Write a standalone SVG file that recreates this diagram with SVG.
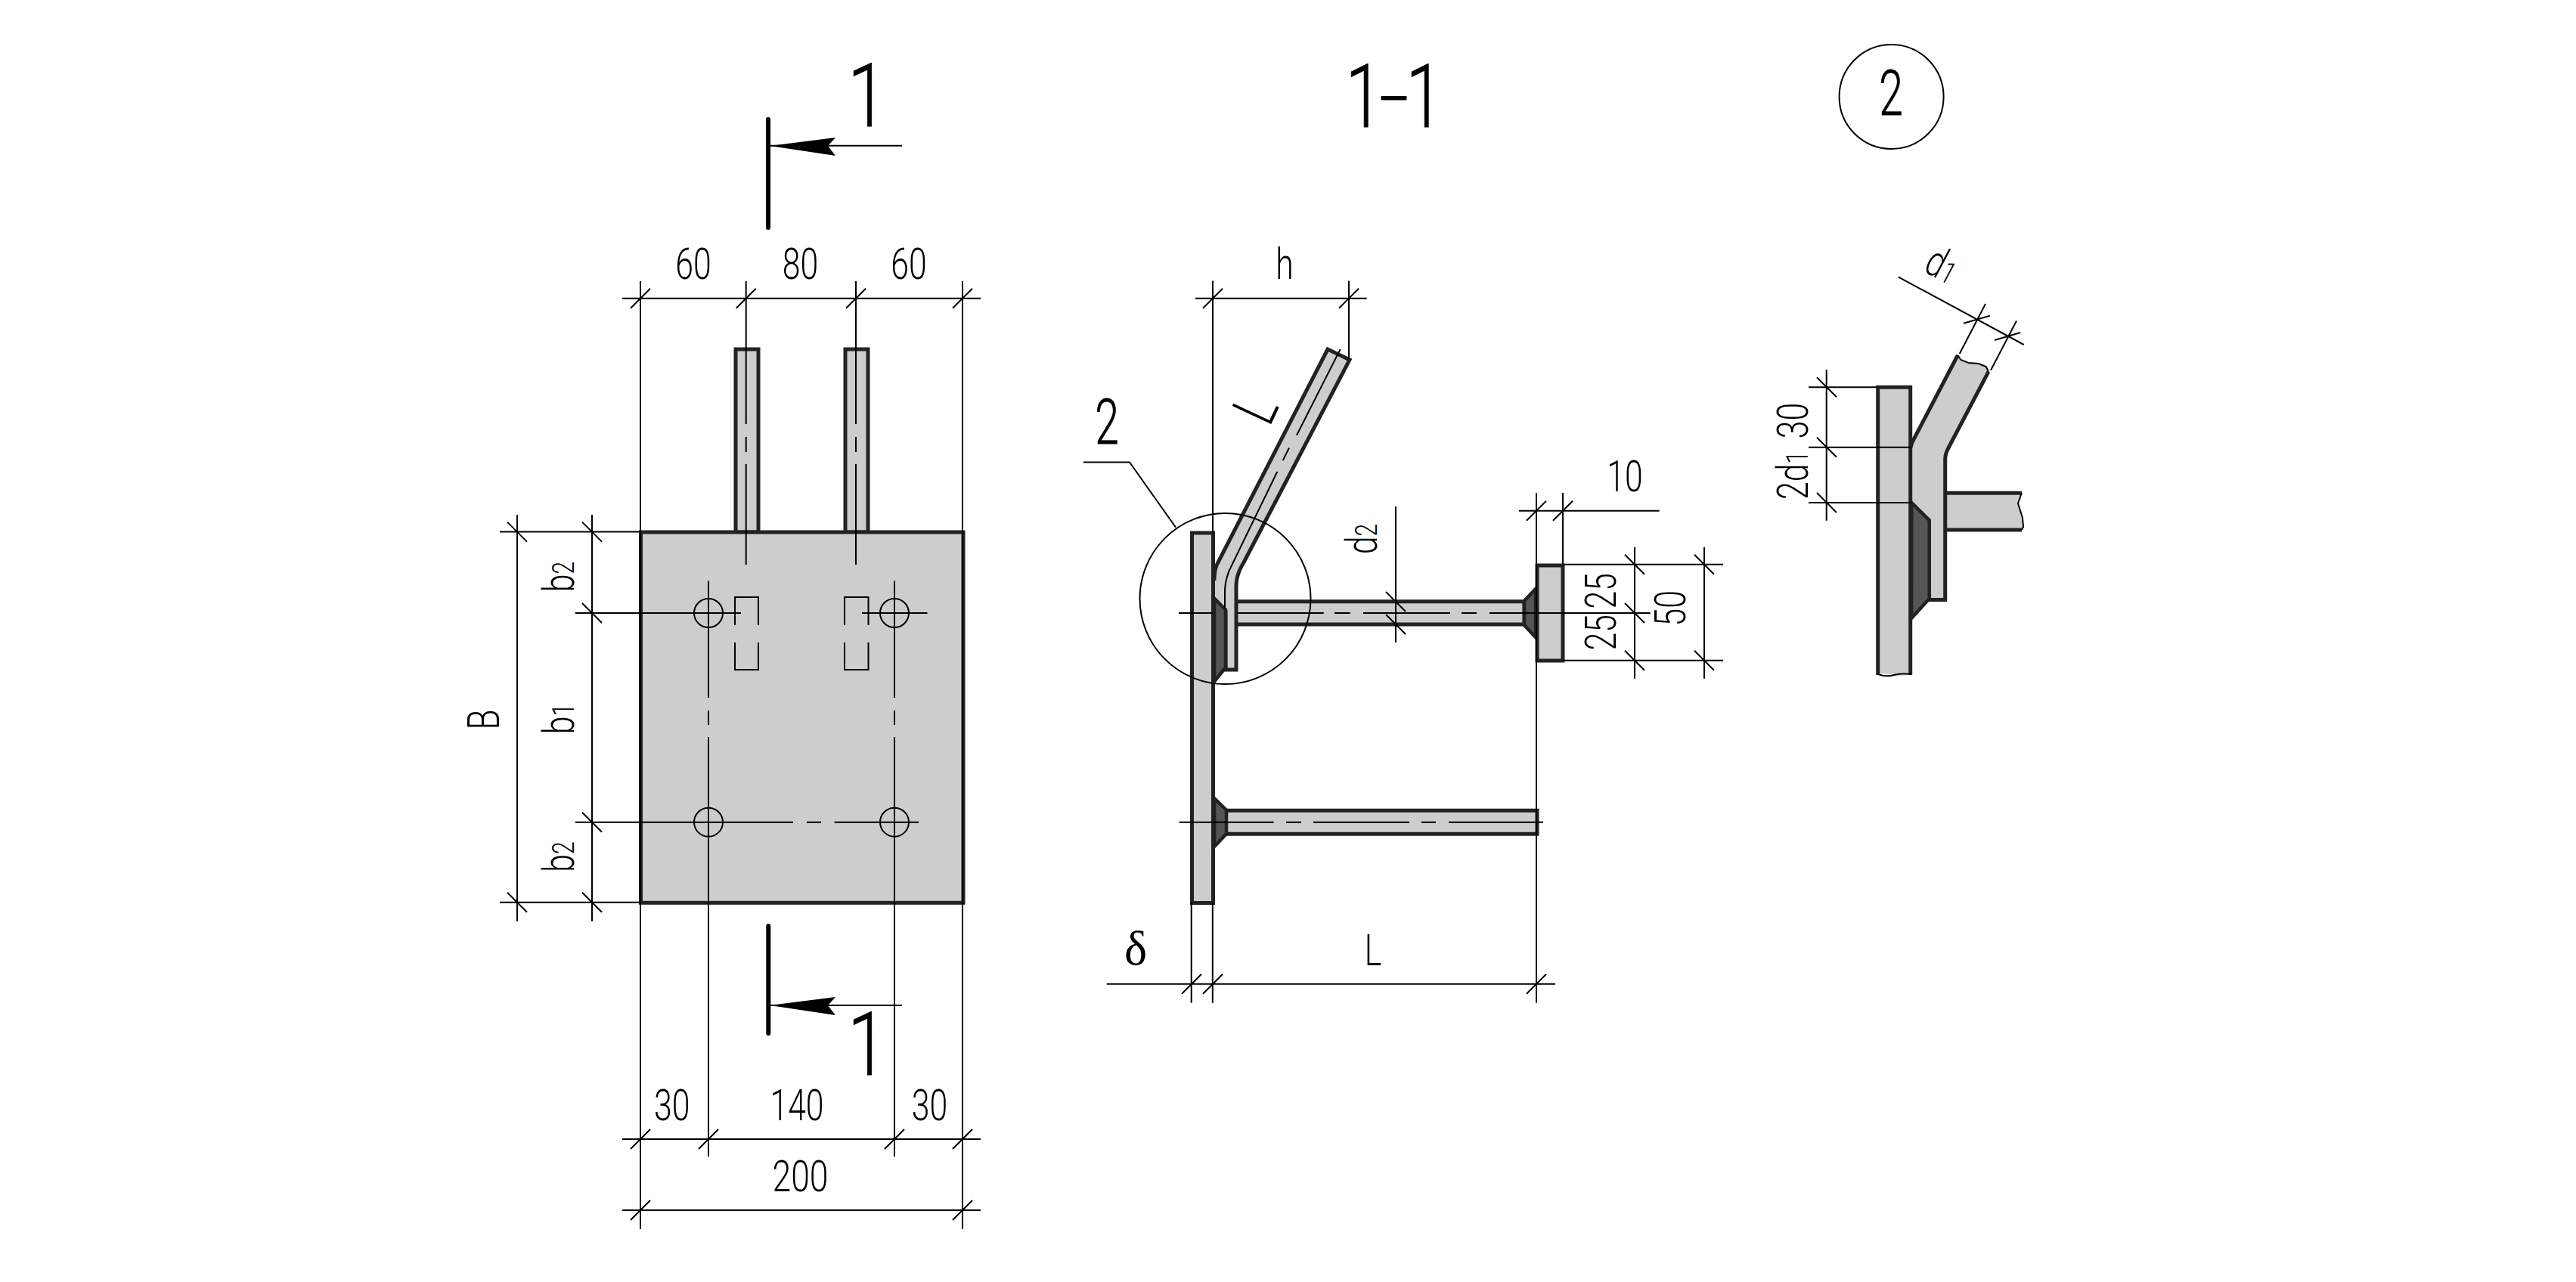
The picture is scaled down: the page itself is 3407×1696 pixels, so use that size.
<svg xmlns="http://www.w3.org/2000/svg" width="3407" height="1696" viewBox="0 0 3407 1696">
<style>
text{font-family:Roboto,"Liberation Sans",sans-serif;font-weight:300;font-size:57px;fill:#000;text-anchor:middle}
.big{font-size:117px;stroke:#000;stroke-width:1}
.mid{font-size:84px;stroke:#000;stroke-width:.8}
.sub{font-size:40px}
.dash{font-size:90px}
.del{font-family:"Liberation Serif",serif;font-weight:400;font-size:64px}
.th{fill:none;stroke:#000;stroke-width:2}
.cs{fill:none;stroke:#000;stroke-width:6;stroke-linecap:round}
.st{fill:#cdcdcd;stroke:#222;stroke-width:5}
.fl{fill:#cdcdcd;stroke:none}
.ed{fill:none;stroke:#222;stroke-width:5}
.wd{fill:#555;stroke:#222;stroke-width:4.5}
</style>
<rect width="3407" height="1696" fill="#fff"/>
<defs>
<path id="ah" d="M0 0L87-11L77 0L87 13Z" fill="#000"/>
</defs>

<g id="plan-rods">
<rect class="st" x="973" y="462" width="30" height="242"/>
<rect class="st" x="1118" y="462" width="30" height="242"/>
</g>
<g id="plan-plate">
<rect class="st" x="847.500" y="704" width="426.500" height="490.300"/>
<circle class="th" cx="937" cy="811" r="19"/>
<circle class="th" cx="1183" cy="811" r="19"/>
<circle class="th" cx="937" cy="1087.700" r="19"/>
<circle class="th" cx="1183" cy="1087.700" r="19"/>
<path class="th" d="M972 827V790H1003V827M972 850V886H1003V850M1117 827V790H1148.500V827M1117 850V886H1148.500V850"/>
</g>
<g id="connectors">
<path class="th" d="M847 372V1626M1273 372V1626M986.700 372V561M986.700 578V598M986.700 614V747M1132 372V561M1132 578V598M1132 614V747"/>
<path class="th" d="M823 394.700H1297M834 407.700L860 381.700M973.700 407.700L999.700 381.700M1119 407.700L1145 381.700M1260 407.700L1286 381.700"/>
<path class="th" d="M937 768.600V923M937 940V959M937 975V1530M1183 768.600V923M1183 940V959M1183 975V1530"/>
<path class="th" d="M760.700 811H980M1140 811H1226.500M760.700 1087.700H1049M1067 1087.700H1086M1103.600 1087.700H1215"/>
<path class="th" d="M661 703.600H847M661 1193.700H847M684 681V1218.700M783 681V1218.700M671 690.600L697 716.600M671 1180.700L697 1206.700M770 798L796 824M770 690.600L796 716.600M770 1074.700L796 1100.700M770 1180.700L796 1206.700"/>
<path class="th" d="M823 1507H1297M834 1520L860 1494M924 1520L950 1494M1170 1520L1196 1494M1260 1520L1286 1494M823 1601H1297M834 1614L860 1588M1260 1614L1286 1588"/>
<path class="th" d="M1016 192.700H1193M1016 1330H1193"/>
</g>
<g id="cut-marks">
<path class="cs" d="M1016 158V301M1016.300 1225V1367"/>
<use href="#ah" x="1018" y="193"/>
<use href="#ah" x="1018" y="1330"/>
</g>

<g id="section-rods">
<rect class="fl" x="1635" y="796" width="381" height="30"/>
<path class="ed" d="M1636 795.700H2016V826H1636"/>
<rect class="fl" x="1622" y="1072" width="411" height="31"/>
<path class="ed" d="M1622 1072.300H2033V1103.300H1622"/>
<path class="fl" d="M1756 462L1785 476L1645 744Q1635 758 1635 775V886H1621V808L1605 791V763L1610 744Z"/>
<path class="ed" d="M1606 768Q1606 752 1611 744L1756 462L1785 476L1645 744Q1635 760 1635 775V886H1621V808"/>
</g>
<g id="section-plate">
<rect class="st" x="1576.500" y="705" width="28" height="489.500"/>
<rect class="st" x="2033" y="748" width="34" height="126"/>
<path class="wd" d="M1606 791.700L1621 806.700V883L1606 901.700Z"/>
<path class="wd" d="M1606 1056L1622 1071.700V1103L1606 1120Z"/>
<path class="wd" d="M2031 779L2016 795V827L2031 843Z"/>
</g>
<g id="section-dims">
<path class="th" d="M1604 371.500V705M1784 371.500V474.700M1581 394.700H1807.700M1591 407.700L1617 381.700M1771 407.700L1797 381.700"/>
<path class="th" d="M1620 805V780Q1621 762 1630 746L1689.300 624M1696.700 609L1705 592.500M1715 575.700L1772.700 462"/>
<path class="th" d="M1433 611.500H1494L1555 697.700"/>
<circle class="th" cx="1620.500" cy="792" r="113"/>
<path class="th" d="M1846 670V850M1833 783L1859 809M1833 813L1859 839"/>
<path class="th" d="M1559 811H1604M1636.700 811H1750.700M1765 811H1785.700M1803 811H1918M1933 811H1953M1970 811H2182.700"/>
<path class="th" d="M1559.600 1087.700H1684.600M1701 1087.700H1721M1737 1087.700H1864M1880 1087.700H1899M1916 1087.700H2041"/>
<path class="th" d="M2009 675.700H2194.700M2019 688.700L2045 662.700M2054 688.700L2080 662.700M2032 652V1326.700M2067 652V746"/>
<path class="th" d="M2069 746.700H2279M2069 873.700H2279M2162 724V897.700M2254 724V897.700M2149 733.700L2175 759.700M2149 798L2175 824M2149 860.700L2175 886.700M2241 733.700L2267 759.700M2241 860.700L2267 886.700"/>
<path class="th" d="M1463.700 1301.700H2057M1575.700 1194V1326.700M1603.800 1194V1326.700M1563 1314.700L1589 1288.700M1591 1314.700L1617 1288.700M2019 1314.700L2045 1288.700"/>
</g>

<g id="detail">
<path class="fl" d="M2589.300 470L2593.300 476L2603.300 480L2616.700 481L2626.700 485L2630 491.700L2578.300 590Q2572.700 600 2572.700 607V793.500H2551V689L2528 666V590Z"/>
<path class="fl" d="M2483.700 512H2526.700V892Q2515 896 2505 893T2483.700 892Z"/>
<path class="fl" d="M2573 652H2674L2669 666L2675 685L2676 697L2674 701H2573Z"/>
<path class="ed" d="M2483.700 893V512.300H2526.700V893"/>
<path class="ed" d="M2527 592Q2528 586 2531.700 580L2589.300 470M2630 491.700L2578.300 590Q2572.700 600 2572.700 607V793.500H2550.700V689"/>
<path class="ed" d="M2573 652.300H2674M2573 701H2674"/>
<path class="wd" d="M2528.300 665L2551.700 688.300V792L2528 818Z"/>
<path class="th" d="M2483.700 892Q2495 896 2505 893T2527 892M2589.300 470L2593.300 476L2603.300 480L2616.700 481L2626.700 485L2630 491.700M2674 652L2669 666L2675 685L2676 697L2674 701"/>
<path class="th" d="M2415.700 489V688.700M2392 512.300H2483M2392 591.800H2528M2392 665H2528M2403 499.300L2429 525.300M2403 578.800L2429 604.800M2403 652L2429 678"/>
<path class="th" d="M2510.700 366.400L2676.700 456M2626 402L2591.700 468M2667 424.500L2633 489.800M2597 427.700L2631.700 417.800M2638 450L2672 440"/>
<circle class="th" cx="2501.600" cy="128" r="69"/>
</g>

<g id="labels">
<text transform="translate(1147,167) scale(.8,1)" class="big">1</text>
<text transform="translate(1147,1422) scale(.8,1)" class="big">1</text>
<text transform="translate(1779.400,168) scale(.75,1)" class="big" style="text-anchor:start;letter-spacing:-8.300px">1<tspan class="dash" dy="-5">–</tspan><tspan dy="5">1</tspan></text>
<text transform="translate(2501,151.700) scale(.68,1)" class="mid">2</text>
<text transform="translate(1464,587) scale(.68,1)" class="mid">2</text>
<text transform="translate(917,369) scale(.75,1)">60</text>
<text transform="translate(1058.500,369) scale(.75,1)">80</text>
<text transform="translate(1202,369) scale(.75,1)">60</text>
<text transform="translate(888.700,1481.700) scale(.75,1)">30</text>
<text transform="translate(1054,1481.700) scale(.75,1)">140</text>
<text transform="translate(1229.500,1481.700) scale(.75,1)">30</text>
<text transform="translate(1058.500,1576) scale(.78,1)">200</text>
<text transform="translate(660,952) rotate(-90) scale(.75,1)" style="font-size:59px">B</text>
<text transform="translate(759,763) rotate(-90) scale(.75,1)">b<tspan class="sub">2</tspan></text>
<text transform="translate(759,951) rotate(-90) scale(.75,1)">b<tspan class="sub">1</tspan></text>
<text transform="translate(759,1133.500) rotate(-90) scale(.75,1)">b<tspan class="sub">2</tspan></text>
<text transform="translate(1699,369) scale(.75,1)">h</text>
<text transform="translate(1681,562) rotate(-65) scale(.75,1)" style="text-anchor:start;font-size:80px" dx="-6">L</text>
<text transform="translate(1820.700,713) rotate(-90) scale(.75,1)">d<tspan class="sub">2</tspan></text>
<text transform="translate(2149,650) scale(.75,1)">10</text>
<text transform="translate(2137,781.700) rotate(-90) scale(.75,1)">25</text>
<text transform="translate(2137,836.700) rotate(-90) scale(.75,1)">25</text>
<text transform="translate(2229,804.700) rotate(-90) scale(.75,1)">50</text>
<text class="del" x="1502" y="1276">δ</text>
<text transform="translate(1816,1276.700) scale(.75,1)">L</text>
<text transform="translate(2390.700,556.500) rotate(-90) scale(.75,1)">30</text>
<text transform="translate(2390.700,629) rotate(-90) scale(.75,1)">2d<tspan class="sub">1</tspan></text>
<text transform="translate(2542,358) rotate(28) scale(.75,1)" style="text-anchor:start">d<tspan class="sub">1</tspan></text>
</g>
</svg>
